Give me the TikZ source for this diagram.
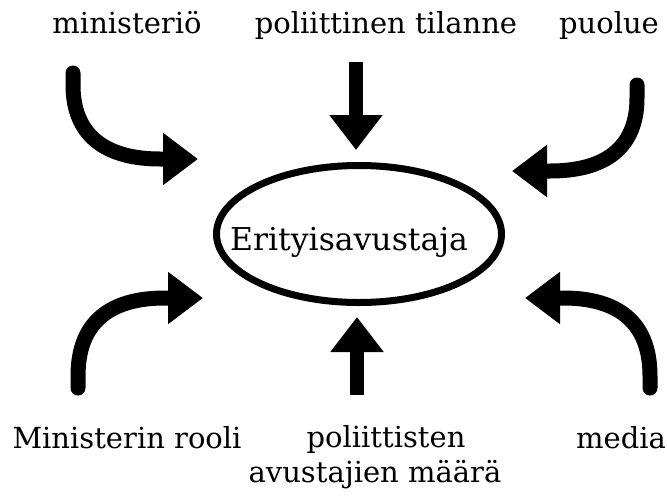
\documentclass[tikz,border=0pt]{standalone}
\usepackage{fontspec}
\setmainfont{DejaVu Serif}
\usetikzlibrary{arrows.meta,shapes.geometric}
\begin{document}
\begin{tikzpicture}[x=1pt,y=-1pt,
  lbl/.style={font=\fontsize{29}{34}\selectfont, anchor=base, inner sep=0pt, text=black},
  centerlbl/.style={font=\fontsize{31.5}{36}\selectfont, anchor=base, inner sep=0pt, text=black},
  curvearrow/.style={line width=15pt, line cap=round, -{Triangle[length=35pt,width=50pt]}},
  straightarrow/.style={line width=14pt, -{Triangle[length=35pt,width=51pt]}},
  oval/.style={draw, ellipse, line width=7pt, minimum width=285pt, minimum height=137pt, inner sep=0pt}
]
\useasboundingbox (0,0) rectangle (667,496);

% labels
\node[lbl] (min) at (127,33) {ministeriö};
\node[lbl] (pol) at (386,33) {poliittinen tilanne};
\node[lbl] (puo) at (609,33) {puolue};
\node[lbl] (rol) at (127,448) {Ministerin rooli};
\node[lbl] (pav) at (386,447) {poliittisten};
\node[lbl] (pav2) at (375,482) {avustajien määrä};
\node[lbl] (med) at (621,448) {media};

% center
\node[oval] (e) at (359,234) {};
\node[centerlbl] (et) at (349,250) {Erityisavustaja};

% coordinates
\coordinate (s1) at (73,73);   \coordinate (t1) at (198,159);
\coordinate (s2) at (637,85);  \coordinate (t2) at (512,171);
\coordinate (s3) at (78,388);  \coordinate (t3) at (203,298);
\coordinate (s4) at (650,388); \coordinate (t4) at (525,298);
\coordinate (s5) at (356,62);  \coordinate (t5) at (356,150);
\coordinate (s6) at (357,395); \coordinate (t6) at (357,317);

% curved arrows
\draw[curvearrow] (s1) -- (73,85) .. controls (73,135) and (105,159) .. (160,159) -- (t1);
\draw[curvearrow] (s2) -- (637,98) .. controls (637,148) and (605,171) .. (550,171) -- (t2);
\draw[curvearrow] (s3) -- (78,376) .. controls (78,322) and (110,298) .. (165,298) -- (t3);
\draw[curvearrow] (s4) -- (650,376) .. controls (650,322) and (618,298) .. (563,298) -- (t4);

% straight arrows
\draw[straightarrow] (s5) -- (t5);
\draw[straightarrow] (s6) -- (t6);
\end{tikzpicture}
\end{document}
